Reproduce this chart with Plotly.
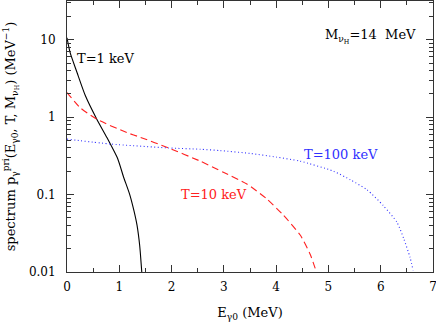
import math
import plotly.graph_objects as go

# T = 1 keV (black, solid)
t1_x = [0.0, 0.06, 0.19, 0.35, 0.57, 0.76, 0.97, 1.08, 1.20, 1.28, 1.34, 1.39, 1.43]
t1_y = [10.6, 6.8, 3.8, 1.9, 0.94, 0.55, 0.29, 0.17, 0.10, 0.062, 0.040, 0.022, 0.010]

# T = 10 keV (red, dashed)
t10_x = [0.0, 0.25, 0.57, 1.15, 1.40, 1.94, 2.55, 2.99, 3.44, 3.82, 4.14, 4.46, 4.65, 4.77]
t10_y = [2.08, 1.33, 0.94, 0.63, 0.55, 0.40, 0.27, 0.194, 0.137, 0.088, 0.054, 0.030, 0.017, 0.010]

# T = 100 keV (blue, dotted)
t100_x = [0.0, 0.83, 1.94, 2.55, 2.93, 3.50, 4.00, 4.46, 5.10, 5.42, 5.74, 6.05, 6.31, 6.44, 6.56, 6.62]
t100_y = [0.52, 0.45, 0.40, 0.385, 0.37, 0.34, 0.305, 0.27, 0.20, 0.155, 0.115, 0.072, 0.044, 0.027, 0.0155, 0.0105]

x_ticks = [0, 1, 2, 3, 4, 5, 6, 7]
y_ticks = [0.01, 0.1, 1, 10]
y_tick_text = ["0.01", "0.1", "1", "10"]

FONT = "DejaVu Serif"
RED = "#ff2020"
BLUE = "#3030ff"

fig = go.Figure()
fig.add_trace(go.Scatter(x=t1_x, y=t1_y, mode="lines",
                         line=dict(color="black", width=1.1, shape="spline", smoothing=0.6)))
fig.add_trace(go.Scatter(x=t10_x, y=t10_y, mode="lines",
                         line=dict(color=RED, width=1.1, dash="7px,4px", shape="spline", smoothing=0.6)))
fig.add_trace(go.Scatter(x=t100_x, y=t100_y, mode="lines",
                         line=dict(color=BLUE, width=1.1, dash="1px,2.5px", shape="spline", smoothing=0.6)))

ann_font = dict(family=FONT, size=13)
# annotation y on a log axis is given in log10 units
fig.add_annotation(x=0.16, y=math.log10(5.7), text="T=1 keV", showarrow=False, xanchor="left",
                   yanchor="middle", font=dict(color="black", **ann_font))
fig.add_annotation(x=2.15, y=math.log10(0.101), text="T=10 keV", showarrow=False, xanchor="left",
                   yanchor="middle", font=dict(color=RED, **ann_font))
fig.add_annotation(x=4.5, y=math.log10(0.331), text="T=100 keV", showarrow=False, xanchor="left",
                   yanchor="middle", font=dict(color=BLUE, **ann_font))
fig.add_annotation(x=6.72, y=math.log10(11), text="M<sub>ν<sub>H</sub></sub>=14\u00a0 MeV", showarrow=False,
                   xanchor="right", yanchor="middle", font=dict(color="black", **ann_font))

axis_common = dict(showline=True, linecolor="#333", linewidth=1, mirror="ticks",
                   ticks="inside", ticklen=7, tickcolor="#333", showgrid=False, zeroline=False,
                   automargin=False, ticklabeloverflow="allow",
                   tickfont=dict(family=FONT, size=12, color="black"))

fig.update_xaxes(range=[0, 7], tickvals=x_ticks, ticklabelstandoff=4,
                 minor=dict(dtick=0.5, ticks="inside", ticklen=4, tickcolor="#333", showgrid=False),
                 title=dict(text="E<sub>γ0</sub> (MeV)", font=dict(family=FONT, size=13, color="black"),
                            standoff=14),
                 **axis_common)
fig.update_yaxes(type="log", range=[-2, 1.5], tickvals=y_ticks, ticktext=y_tick_text,
                 ticklabelstandoff=8,
                 minor=dict(dtick="D1", ticks="inside", ticklen=4, tickcolor="#333", showgrid=False),
                 title=dict(text="spectrum p<sub>γ</sub><sup>pri</sup>(E<sub>γ0</sub>, T, M<sub>ν<sub>H</sub></sub>) (MeV<sup>−1</sup>)",
                            font=dict(family=FONT, size=13, color="black"), standoff=10),
                 **axis_common)

fig.update_layout(width=436, height=324, margin=dict(l=67, r=3, t=1, b=52),
                  paper_bgcolor="white", plot_bgcolor="white", showlegend=False)

fig.write_html("out.html", config={"displayModeBar": False},
               post_script="document.body.style.margin='0';"
                           "document.body.style.overflow='hidden';"
                           "document.documentElement.style.overflow='hidden';")
